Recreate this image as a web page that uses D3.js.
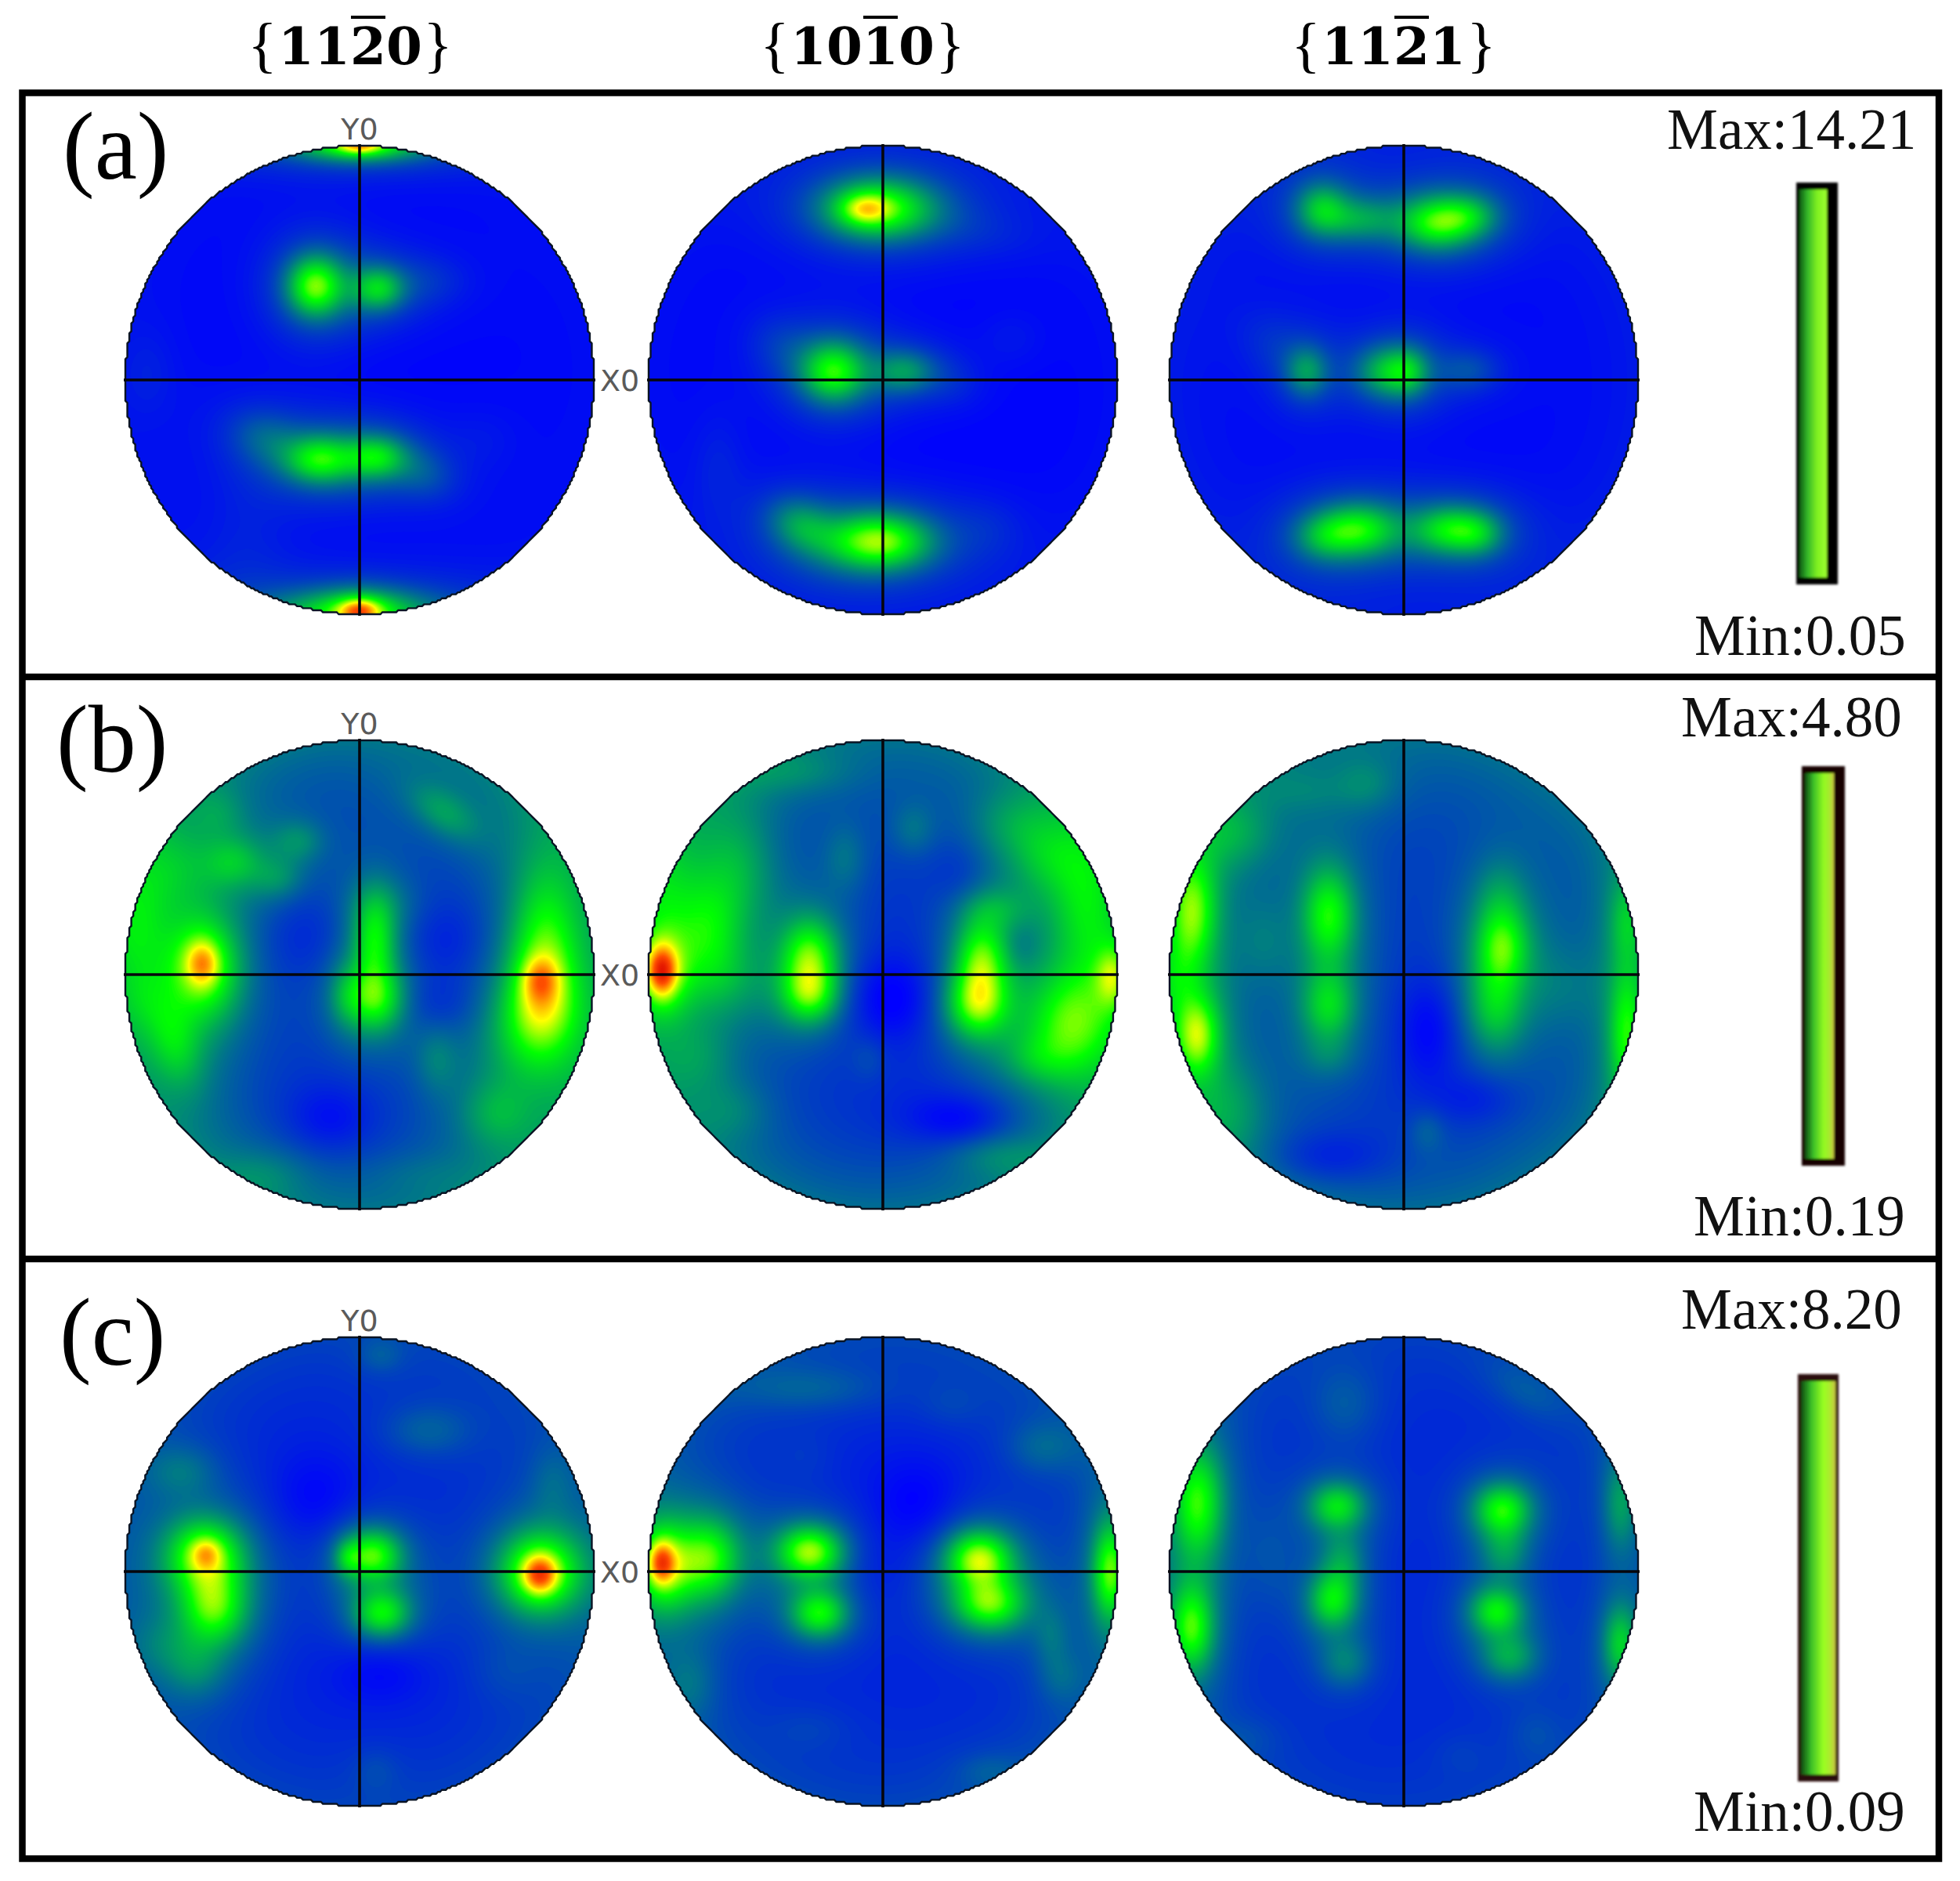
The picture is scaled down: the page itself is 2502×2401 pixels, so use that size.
<!DOCTYPE html>
<html>
<head>
<meta charset="utf-8">
<title>Pole figures</title>
<script src="https://cdn.jsdelivr.net/npm/d3@7"></script>
<style>
  html, body { margin: 0; background: #fff; }
  svg { display: block; }
</style>
</head>
<body>
<svg id="chart" width="2502" height="2401"></svg>
<script>
// values
// each peak: [x, y, spreadX, spreadY, rotation deg, level] in pole figure units (-1..1)
const rowLabels = ["(a)", "(b)", "(c)"];
const maxLabels = ["Max:14.21", "Max:4.80", "Max:8.20"];
const minLabels = ["Min:0.05", "Min:0.19", "Min:0.09"];
const planeDigits = [["1", "1", "2", "0"], ["1", "0", "1", "0"], ["1", "1", "2", "1"]];
const barredDigit = 2;

const colorLevels = [0, 0.5, 0.68, 0.85, 1];
const colorValues = ["#0000ff", "#00ff00", "#ffff00", "#ff5000", "#d80000"];

const peaksA1 = [
    [0, -0.985, 0.05, 0.03, 0, 0.42], [-0.03, -1.0, 0.2, 0.055, 0, 0.44],
    [0, 1.0, 0.05, 0.02, 0, 0.3], [0, 1.01, 0.17, 0.04, 0, 0.48],
    [-0.19, 0.4, 0.065, 0.07, 0, 0.56], [0.08, 0.39, 0.06, 0.05, 0, 0.38], [0.3, 0.42, 0.09, 0.06, 0, 0.07],
    [-0.17, -0.34, 0.08, 0.055, 0, 0.44], [0.07, -0.33, 0.07, 0.05, 0, 0.38],
    [-0.4, -0.25, 0.09, 0.065, -20, 0.15], [0.27, -0.4, 0.08, 0.06, -20, 0.12],
    [0.53, -0.25, 0.08, 0.07, 0, 0.03], [-0.9, 0.03, 0.06, 0.1, 0, 0.04], [-0.48, -0.67, 0.1, 0.15, 0, 0.04]
];
const peaksA2 = [
    [-0.08, 0.73, 0.055, 0.035, 0, 0.26], [-0.01, 0.73, 0.13, 0.07, 0, 0.5],
    [-0.21, 0.035, 0.075, 0.07, 0, 0.5], [0.09, 0.035, 0.07, 0.05, 0, 0.26], [0.28, 0, 0.08, 0.06, -20, 0.06],
    [-0.42, 0.14, 0.09, 0.07, -35, 0.08],
    [-0.02, -0.69, 0.12, 0.065, 0, 0.6], [-0.35, -0.62, 0.08, 0.06, -25, 0.24],
    [0.55, 0.18, 0.07, 0.06, 0, 0.04], [-0.7, -0.35, 0.06, 0.12, 0, 0.05],
    [0.45, -0.63, 0.08, 0.07, 0, 0.04], [0.38, 0.64, 0.16, 0.06, -10, 0.04]
];
const peaksA3 = [
    [0.14, 0.67, 0.085, 0.06, 0, 0.44], [0.28, 0.7, 0.07, 0.05, 0, 0.24],
    [-0.35, 0.73, 0.06, 0.06, 0, 0.32], [-0.18, 0.685, 0.09, 0.05, 0, 0.22],
    [-0.415, 0.035, 0.05, 0.06, 0, 0.27], [-0.08, 0.035, 0.07, 0.06, 0, 0.3], [0.02, 0.035, 0.05, 0.055, 0, 0.26],
    [0.28, 0.04, 0.07, 0.05, 0, 0.13], [-0.56, 0.16, 0.09, 0.07, -40, 0.06],
    [-0.19, -0.64, 0.09, 0.06, 0, 0.42], [-0.345, -0.67, 0.07, 0.055, 0, 0.22],
    [0.2, -0.64, 0.09, 0.055, 0, 0.4], [0.32, -0.66, 0.06, 0.05, 0, 0.18]
];
const peaksB1 = [
    [-0.67, 0.05, 0.04, 0.055, 0, 0.28], [-0.66, 0.02, 0.09, 0.13, 0, 0.36],
    [0.77, -0.02, 0.045, 0.055, 0, 0.24], [0.79, 0.1, 0.08, 0.2, 0, 0.36], [0.76, -0.15, 0.09, 0.09, 0, 0.2],
    [0.065, 0.147, 0.05, 0.11, 0, 0.34], [0.065, -0.105, 0.065, 0.075, 0, 0.36], [-0.06, -0.09, 0.04, 0.07, 0, 0.12],
    [-0.95, 0.2, 0.08, 0.15, 0, 0.18], [-0.93, -0.12, 0.06, 0.08, 0, 0.07], [-0.79, -0.29, 0.06, 0.11, 15, 0.2],
    [0.36, 0.69, 0.09, 0.05, -35, 0.16],
    [-0.535, 0.48, 0.07, 0.06, 0, 0.18], [-0.26, 0.57, 0.06, 0.05, 0, 0.13], [-0.35, 0.41, 0.06, 0.05, 0, 0.12],
    [-0.8, 0.45, 0.1, 0.1, 0, 0.12], [-0.6, 0.69, 0.06, 0.06, 0, 0.08], [0.1, 0.3, 0.09, 0.07, 0, 0.08],
    [0.33, -0.36, 0.05, 0.08, 0, 0.11], [0.58, -0.59, 0.08, 0.08, 0, 0.15], [0.72, -0.3, 0.11, 0.1, 0, 0.13],
    [-0.4, -0.85, 0.1, 0.06, 0, 0.08], [0.25, -0.85, 0.12, 0.05, 0, 0.04],
    [-0.13, -0.62, 0.1, 0.08, 0, -0.1], [0.36, 0.15, 0.1, 0.09, 0, -0.07], [-0.23, 0.17, 0.1, 0.1, 0, -0.06],
    [0.33, -0.13, 0.09, 0.07, 0, -0.07]
];
const peaksB2 = [
    [-0.945, 0.015, 0.035, 0.06, 0, 0.46], [-0.93, 0.01, 0.06, 0.1, 0, 0.2],
    [-0.74, 0.18, 0.08, 0.13, 0, 0.24], [-0.62, 0.45, 0.09, 0.14, 0, 0.16], [-0.94, 0.37, 0.08, 0.14, 0, 0.14], [-0.67, -0.03, 0.09, 0.09, 0, 0.1],
    [-0.31, 0.075, 0.065, 0.09, 0, 0.42], [-0.31, -0.09, 0.065, 0.065, 0, 0.34],
    [0.42, 0.06, 0.06, 0.1, 0, 0.4], [0.4, -0.13, 0.07, 0.075, 0, 0.38], [0.48, 0.28, 0.08, 0.05, 0, 0.12],
    [0.8, -0.21, 0.1, 0.13, 0, 0.36], [0.98, -0.01, 0.04, 0.07, 0, 0.28], [0.65, -0.36, 0.08, 0.06, 0, 0.12],
    [0.86, 0.3, 0.08, 0.17, 0, 0.22], [0.55, 0.64, 0.1, 0.08, 0, 0.12], [0.7, 0.5, 0.09, 0.09, 0, 0.16],
    [-0.37, 0.86, 0.13, 0.05, 0, 0.08], [-0.16, 0.5, 0.05, 0.08, 0, 0.1], [0.13, 0.62, 0.05, 0.06, 0, 0.1],
    [-0.06, -0.36, 0.04, 0.05, 0, 0.06], [-0.79, -0.36, 0.09, 0.09, 0, 0.1], [0.48, -0.77, 0.11, 0.05, 0, 0.1], [-0.64, -0.58, 0.09, 0.07, 0, 0.08],
    [0.33, -0.62, 0.12, 0.06, 0, -0.13], [0.03, -0.1, 0.12, 0.1, 0, -0.14], [0.33, 0.43, 0.07, 0.08, 0, -0.06],
    [0.59, 0.12, 0.04, 0.05, 0, -0.05]
];
const peaksB3 = [
    [-0.32, 0.255, 0.06, 0.11, 0, 0.38], [-0.32, -0.135, 0.06, 0.085, 0, 0.28], [-0.6, 0.14, 0.06, 0.1, 0, 0.08], [-0.32, -0.35, 0.06, 0.05, 0, 0.07],
    [0.42, 0.115, 0.06, 0.085, 0, 0.32], [0.39, -0.135, 0.065, 0.11, 0, 0.26], [0.41, 0.31, 0.06, 0.1, 0, 0.14], [0.68, -0.05, 0.09, 0.1, 0, 0.07],
    [-0.9, 0.27, 0.055, 0.13, 0, 0.38], [-0.88, -0.26, 0.05, 0.09, 0, 0.4], [-0.97, -0.02, 0.05, 0.1, 0, 0.12],
    [-0.74, -0.58, 0.09, 0.11, 0, 0.12], [0.95, -0.25, 0.04, 0.15, 0, 0.3], [0.95, 0.23, 0.04, 0.1, 0, 0.16],
    [0.1, -0.67, 0.04, 0.05, 0, 0.08], [-0.72, 0.6, 0.09, 0.08, 0, 0.13], [-0.16, 0.81, 0.07, 0.06, 0, 0.09], [-0.42, 0.78, 0.1, 0.05, 0, 0.05],
    [0.11, -0.23, 0.07, 0.12, 0, -0.12], [-0.33, -0.78, 0.13, 0.06, 0, -0.1], [0.31, -0.53, 0.1, 0.06, 0, -0.08]
];
const peaksC1 = [
    [-0.655, 0.077, 0.035, 0.035, 0, 0.18], [-0.66, 0.07, 0.09, 0.085, 0, 0.44], [-0.62, -0.155, 0.075, 0.085, 0, 0.4],
    [0.77, -0.014, 0.04, 0.045, 0, 0.36], [0.77, 0, 0.1, 0.095, 0, 0.46],
    [0.06, 0.07, 0.065, 0.06, 0, 0.46], [-0.05, 0.06, 0.03, 0.04, 0, 0.18], [0.095, -0.18, 0.065, 0.055, 0, 0.4],
    [-0.76, 0.43, 0.08, 0.06, 0, 0.11], [0.29, 0.6, 0.1, 0.06, 0, 0.11], [0.09, 0.92, 0.05, 0.04, 0, 0.07],
    [0.82, 0.38, 0.05, 0.08, 0, 0.07], [-0.83, -0.32, 0.09, 0.07, 0, 0.08], [-0.7, -0.42, 0.07, 0.07, 0, 0.12],
    [0.62, -0.43, 0.08, 0.07, 0, 0.04], [0.07, -0.85, 0.05, 0.05, 0, 0.05],
    [-0.19, 0.31, 0.1, 0.1, 0, -0.07], [0.09, -0.42, 0.1, 0.07, 0, -0.07]
];
const peaksC2 = [
    [-0.945, 0.04, 0.03, 0.05, 0, 0.36], [-0.93, 0.02, 0.07, 0.1, 0, 0.36], [-0.74, 0.055, 0.07, 0.09, 0, 0.4],
    [-0.31, 0.085, 0.075, 0.06, 0, 0.54], [-0.27, -0.18, 0.065, 0.055, 0, 0.42],
    [0.41, 0.055, 0.075, 0.065, 0, 0.54], [0.455, -0.14, 0.08, 0.06, 0, 0.44], [0.97, 0, 0.04, 0.11, 0, 0.44],
    [-0.31, 0.78, 0.16, 0.05, 0, 0.09], [0.68, 0.53, 0.08, 0.06, 0, 0.1], [0.72, -0.28, 0.04, 0.07, 0, 0.09],
    [0.76, -0.45, 0.05, 0.06, 0, 0.08], [-0.82, -0.48, 0.06, 0.08, 0, 0.09], [0.29, 0.71, 0.07, 0.05, 0, 0.04],
    [-0.31, -0.67, 0.09, 0.05, 0, 0.04], [0.45, -0.85, 0.07, 0.04, 0, 0.06], [-0.33, 0.49, 0.07, 0.06, 0, 0.03],
    [0.15, 0.28, 0.1, 0.1, 0, -0.08], [-0.05, 0, 0.1, 0.1, 0, -0.05]
];
const peaksC3 = [
    [-0.88, 0.295, 0.06, 0.13, 0, 0.42], [-0.905, -0.24, 0.05, 0.1, 0, 0.42],
    [-0.285, 0.28, 0.065, 0.055, 0, 0.36], [-0.26, 0.04, 0.05, 0.07, 0, 0.17], [-0.305, -0.125, 0.055, 0.065, 0, 0.36], [-0.25, -0.39, 0.06, 0.06, 0, 0.16],
    [0.42, 0.265, 0.065, 0.06, 0, 0.42], [0.43, 0.085, 0.055, 0.065, 0, 0.17], [0.395, -0.17, 0.06, 0.055, 0, 0.38], [0.45, -0.365, 0.065, 0.055, 0, 0.23],
    [0.925, -0.31, 0.04, 0.09, 0, 0.3], [0.925, 0.29, 0.04, 0.11, 0, 0.2],
    [-0.57, 0.05, 0.06, 0.12, 0, 0.06], [-0.25, 0.71, 0.08, 0.09, 0, 0.09], [0.52, 0.77, 0.1, 0.05, -30, 0.07],
    [0.24, -0.78, 0.06, 0.05, 0, 0.03], [0.56, -0.69, 0.06, 0.06, 0, 0.05], [-0.67, -0.71, 0.08, 0.05, 0, 0.04]
];

// columns are {11-20}, {10-10}, {11-21}
const figurePeaks = [
    [peaksA1, peaksA2, peaksA3],
    [peaksB1, peaksB2, peaksB3],
    [peaksC1, peaksC2, peaksC3]
];
// level in the middle of each figure and the extra level it gains at the rim
const figureBase = [
    [0.01, 0, 0.015],
    [0.11, 0.1, 0.12],
    [0.07, 0.07, 0.07]
];
const figureRim = [
    [0.02, 0.03, 0.04],
    [0.12, 0.12, 0.1],
    [0.06, 0.07, 0.05]
];

// layout
const columnX = [459, 1127, 1792];
const rowY = [485, 1244, 2006];
const radius = 299;
const gridSize = 210;
const maskSize = 236;
// peaks are soft: a tight part and a wide skirt round it
const spreadScale = 1.25;
const skirtScale = 2;
const skirtShare = 0.28;

const color = d3.scaleLinear().domain(colorLevels).range(colorValues).clamp(true);
const thresholds = d3.range(0.008, 1.0, 0.008);

const svg = d3.select("#chart");
svg.append("rect").attr("width", 2502).attr("height", 2401).attr("fill", "#fff");
const defs = svg.append("defs");

function buildField(peaks, base, rim) {
    const unit = d3.scaleLinear().domain([0, gridSize - 1]).range([-1.03, 1.03]);
    const values = new Float64Array(gridSize * gridSize);
    for (let j = 0; j < gridSize; j++) {
        const y = -unit(j);
        for (let i = 0; i < gridSize; i++) {
            const x = unit(i);
            const r2 = x * x + y * y;
            let v = base + rim * r2 * r2;
            peaks.forEach(([px, py, sx, sy, rot, level]) => {
                const a = rot * Math.PI / 180;
                const dx = x - px, dy = y - py;
                const u = (dx * Math.cos(a) + dy * Math.sin(a)) / (sx * spreadScale);
                const w = (-dx * Math.sin(a) + dy * Math.cos(a)) / (sy * spreadScale);
                const d2 = u * u + w * w;
                v += level * ((1 - skirtShare) * Math.exp(-0.5 * d2)
                    + skirtShare * Math.exp(-0.5 * d2 / (skirtScale * skirtScale)));
            });
            values[j * gridSize + i] = v;
        }
    }
    return values;
}

// the stepped outline of the low resolution original
function buildMask() {
    const unit = d3.scaleLinear().domain([0, maskSize]).range([-1, 1]);
    const values = new Float64Array(maskSize * maskSize);
    for (let j = 0; j < maskSize; j++) {
        for (let i = 0; i < maskSize; i++) {
            const x = unit(i + 0.5), y = unit(j + 0.5);
            values[j * maskSize + i] = x * x + y * y <= 1 ? 1 : 0;
        }
    }
    return d3.contours().size([maskSize, maskSize]).smooth(false).thresholds([0.5])(values)[0];
}

const maskShape = buildMask();

function drawFigure(row, col) {
    const cx = columnX[col], cy = rowY[row];
    const gridX = d3.scaleLinear().domain([0, gridSize - 1]).range([cx - radius * 1.03, cx + radius * 1.03]);
    const gridY = d3.scaleLinear().domain([0, gridSize - 1]).range([cy - radius * 1.03, cy + radius * 1.03]);
    // d3.contours places a grid value at cell centre, hence the half cell
    const fieldPath = d3.geoPath(d3.geoTransform({
        point(x, y) { this.stream.point(gridX(x - 0.5), gridY(y - 0.5)); }
    }));
    const maskX = d3.scaleLinear().domain([0, maskSize]).range([cx - radius, cx + radius]);
    const maskY = d3.scaleLinear().domain([0, maskSize]).range([cy - radius, cy + radius]);
    const maskPath = d3.geoPath(d3.geoTransform({
        point(x, y) { this.stream.point(maskX(x), maskY(y)); }
    }));

    const clipId = `disc-${row}-${col}`;
    defs.append("clipPath").attr("id", clipId).append("path").attr("d", maskPath(maskShape));

    const g = svg.append("g").attr("class", "figure");
    const body = g.append("g").attr("clip-path", `url(#${clipId})`);
    body.append("path").attr("d", maskPath(maskShape)).attr("fill", color(0));

    const values = buildField(figurePeaks[row][col], figureBase[row][col], figureRim[row][col]);
    const bands = d3.contours().size([gridSize, gridSize]).thresholds(thresholds)(values);
    body.selectAll("path.band")
        .data(bands)
        .enter()
        .append("path")
        .attr("class", "band")
        .attr("d", d => fieldPath(d))
        .attr("fill", d => color(d.value));

    g.append("path")
        .attr("d", maskPath(maskShape))
        .attr("fill", "none")
        .attr("stroke", "#0a1424")
        .attr("stroke-width", 2.4);

    g.append("line")
        .attr("x1", cx - radius - 2).attr("x2", cx + radius + 2)
        .attr("y1", cy).attr("y2", cy)
        .attr("stroke", "#06060c").attr("stroke-width", 3.6);
    g.append("line")
        .attr("x1", cx).attr("x2", cx)
        .attr("y1", cy - radius - 2).attr("y2", cy + radius + 2)
        .attr("stroke", "#06060c").attr("stroke-width", 3.6);
}

// frame
const frame = svg.append("g").attr("stroke", "#000").attr("stroke-width", 8.5);
frame.append("rect")
    .attr("x", 28.5).attr("y", 118.5)
    .attr("width", 2446.5).attr("height", 2254)
    .attr("fill", "none");
[864, 1607].forEach(y => {
    frame.append("line").attr("x1", 28).attr("x2", 2475).attr("y1", y).attr("y2", y);
});

rowY.forEach((_, row) => columnX.forEach((_, col) => drawFigure(row, col)));

// axis letters on the first pole figure of each row
const axisYBase = [178, 937, 1699];
rowY.forEach((cy, row) => {
    svg.append("text")
        .attr("x", columnX[0]).attr("y", axisYBase[row])
        .attr("text-anchor", "middle")
        .attr("font-family", "'DejaVu Sans'")
        .attr("font-size", 38)
        .attr("fill", "#5a5a5a")
        .text("Y0");
    svg.append("text")
        .attr("x", 766).attr("y", cy + 14)
        .attr("font-family", "'DejaVu Sans'")
        .attr("font-size", 38)
        .attr("fill", "#5a5a5a")
        .text("X0");
});

// row letters
const labelX = [80, 72, 76];
const labelBase = [228, 985, 1742];
rowLabels.forEach((t, row) => {
    svg.append("text")
        .attr("x", labelX[row]).attr("y", labelBase[row])
        .attr("font-family", "'Liberation Serif'")
        .attr("font-size", 122)
        .attr("fill", "#000")
        .text(t);
});

// max and min
const maxX = [2128, 2146, 2146], maxBase = [190, 940, 1696];
const minX = [2163, 2162, 2162], minBase = [836, 1577, 2337];
rowY.forEach((_, row) => {
    svg.append("text").attr("x", maxX[row]).attr("y", maxBase[row])
        .attr("font-family", "'Liberation Serif'").attr("font-size", 73).attr("fill", "#111")
        .text(maxLabels[row]);
    svg.append("text").attr("x", minX[row]).attr("y", minBase[row])
        .attr("font-family", "'Liberation Serif'").attr("font-size", 73).attr("fill", "#111")
        .text(minLabels[row]);
});

// colour bars, squeezed so that only green to yellow shows
const barBox = [
    { x: 2293, y: 233, w: 53, h: 513, inner: 35, edge: "#000" },
    { x: 2300, y: 978, w: 55, h: 510, inner: 37, edge: "#120000" },
    { x: 2295, y: 1754, w: 52, h: 520, inner: 44, edge: "#2a1008" }
];
const barStops = [
    [["0", "#0e5a12"], ["0.3", "#35b82a"], ["0.65", "#7ff020"], ["1", "#9cff30"]],
    [["0", "#0c4a10"], ["0.3", "#3cc028"], ["0.65", "#92fa20"], ["0.85", "#a8e830"], ["1", "#c8c040"]],
    [["0", "#0c4a10"], ["0.3", "#3cc028"], ["0.65", "#98ff20"], ["0.85", "#aee830"], ["1", "#c8c040"]]
];
defs.append("filter").attr("id", "soft")
    .attr("x", "-10%").attr("y", "-2%").attr("width", "120%").attr("height", "104%")
    .append("feGaussianBlur").attr("stdDeviation", 1.6);
barBox.forEach((b, row) => {
    const grad = defs.append("linearGradient").attr("id", `bar-${row}`);
    barStops[row].forEach(([o, c]) => grad.append("stop").attr("offset", o).attr("stop-color", c));
    const g = svg.append("g").attr("filter", "url(#soft)");
    g.append("rect").attr("x", b.x).attr("y", b.y).attr("width", b.w).attr("height", b.h).attr("fill", b.edge);
    g.append("rect").attr("x", b.x + 4).attr("y", b.y + 9).attr("width", b.inner).attr("height", b.h - 18)
        .attr("fill", `url(#bar-${row})`);
});

// column headings, one text each, bold digits with a bar over the third one
const titleX = [447, 1101, 1779];
planeDigits.forEach((digits, col) => {
    const pos = d3.scaleLinear().domain([0, 3]).range([titleX[col] - 69, titleX[col] + 69]);
    const title = svg.append("text").attr("y", 82).attr("text-anchor", "middle");
    title.append("tspan")
        .attr("x", titleX[col] - 112).attr("dy", 2)
        .attr("font-family", "'Liberation Serif'").attr("font-size", 78)
        .text("{");
    title.append("tspan")
        .attr("x", digits.map((_, i) => pos(i)).join(" ")).attr("dy", -2)
        .attr("font-family", "'DejaVu Serif'").attr("font-weight", "bold").attr("font-size", 66)
        .text(digits.join(""));
    title.append("tspan")
        .attr("x", titleX[col] + 112).attr("dy", 2)
        .attr("font-family", "'Liberation Serif'").attr("font-size", 78)
        .text("}");
    svg.append("rect")
        .attr("x", pos(barredDigit) - 22).attr("y", 20)
        .attr("width", 44).attr("height", 4)
        .attr("fill", "#000");
});
</script>
</body>
</html>
